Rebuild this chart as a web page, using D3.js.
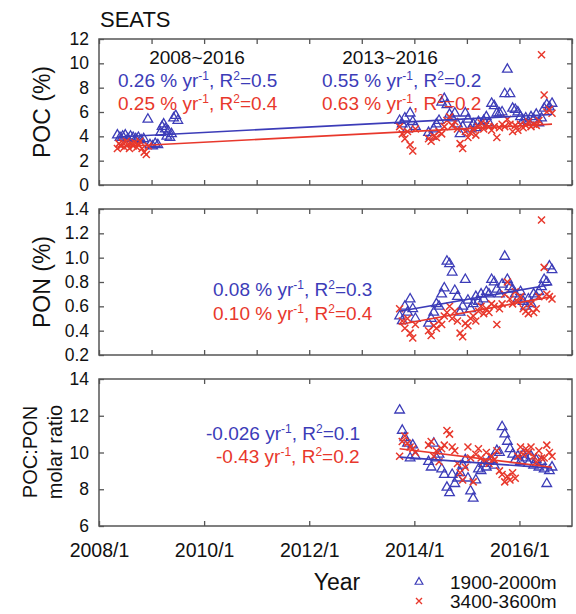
<!DOCTYPE html>
<html><head><meta charset="utf-8">
<script src="https://cdn.jsdelivr.net/npm/d3@7"></script>
<style>
body{margin:0;background:#fff;}
svg{display:block;font-family:"Liberation Sans",Arial,sans-serif;}
</style></head>
<body><svg id="c" width="576" height="614"></svg>
<script>
// ---------------- DATA ----------------
const seriesNames = ["1900-2000m", "3400-3600m"];
const xTickLabelsYears = [2008, 2010, 2012, 2014, 2016];

// early period (2008-2009), POC only
const blueEarlyDates = [2008.35,2008.40,2008.45,2008.50,2008.55,2008.60,2008.65,2008.70,2008.75,2008.80,2008.85,2008.93,2008.97,2009.02,2009.07,2009.12,2009.17,2009.20,2009.23,2009.26,2009.29,2009.32,2009.35,2009.38,2009.42,2009.46,2009.50];
const blueEarlyPOC   = [4.1,3.9,4.0,4.1,3.8,4.0,3.9,3.8,3.9,3.7,3.8,5.4,3.3,3.2,3.4,3.3,4.3,4.8,5.0,4.6,4.0,4.4,3.9,4.2,5.5,5.7,5.3];
const redEarlyDates  = [2008.35,2008.38,2008.42,2008.45,2008.48,2008.52,2008.55,2008.58,2008.62,2008.65,2008.68,2008.72,2008.75,2008.78,2008.82,2008.86,2008.90,2008.94];
const redEarlyPOC    = [3.0,3.4,3.2,3.5,3.1,3.6,3.3,3.0,3.4,3.2,3.5,3.1,3.3,3.6,3.0,2.7,2.5,3.2];

// later period (2013-2016)
const lateDates = [2013.72,2013.77,2013.82,2013.87,2013.92,2013.97,2014.02,
 2014.27,2014.32,2014.37,2014.42,2014.47,2014.52,2014.57,2014.62,2014.67,2014.72,2014.77,2014.82,2014.87,2014.92,2014.97,
 2015.02,2015.07,2015.12,2015.17,2015.22,2015.27,2015.32,2015.37,2015.42,2015.47,2015.52,2015.57,2015.62,2015.67,2015.72,2015.77,2015.82,2015.87,2015.92,2015.97,
 2016.02,2016.07,2016.12,2016.17,2016.22,2016.27,2016.32,2016.37,2016.42,2016.47,2016.52,2016.57,2016.62];

const bluePOC = [5.3,5.0,5.5,4.6,5.9,5.2,4.8,
 4.3,4.0,4.6,5.0,5.3,6.8,7.1,6.6,5.8,5.5,5.9,5.0,4.2,4.8,5.9,
 5.4,4.6,5.0,4.7,5.2,4.9,5.3,5.6,5.1,6.7,6.5,5.9,5.9,6.0,7.5,9.5,7.5,6.3,6.2,6.0,
 5.6,5.3,5.5,5.2,5.6,5.4,5.8,5.1,5.5,6.3,6.6,6.4,6.7];
const redPOC = [4.8,4.2,3.8,4.4,3.3,2.8,4.6,
 3.8,3.6,4.0,3.9,4.4,4.2,4.8,5.3,5.6,4.9,5.2,4.6,3.4,3.0,4.4,
 3.9,4.3,4.6,4.1,4.8,5.1,4.6,5.0,4.8,4.5,4.8,3.9,4.7,5.0,4.8,5.4,5.0,4.4,4.9,4.5,
 5.0,4.7,4.9,5.2,4.8,5.0,4.9,5.3,10.7,7.4,6.0,6.2,5.9];

const bluePON = [0.52,0.48,0.60,0.55,0.66,0.58,0.50,
 0.46,0.50,0.55,0.62,0.60,0.70,0.75,0.97,0.95,0.88,0.73,0.68,0.55,0.60,0.82,
 0.65,0.58,0.62,0.68,0.64,0.70,0.66,0.72,0.70,0.82,0.80,0.74,0.70,0.78,1.01,0.82,0.76,0.74,0.70,0.66,
 0.72,0.64,0.60,0.66,0.62,0.70,0.68,0.72,0.76,0.82,0.80,0.93,0.90];
const redPON = [0.58,0.48,0.42,0.50,0.38,0.34,0.45,
 0.40,0.36,0.44,0.42,0.48,0.45,0.52,0.55,0.60,0.50,0.56,0.48,0.38,0.35,0.46,
 0.44,0.50,0.52,0.48,0.56,0.60,0.54,0.58,0.55,0.62,0.60,0.45,0.58,0.62,0.70,0.80,0.66,0.62,0.72,0.64,
 0.68,0.58,0.56,0.54,0.62,0.55,0.58,0.68,1.31,0.92,0.70,0.68,0.66];

const blueRatio = [12.3,11.2,10.8,10.5,9.7,10.4,9.8,
 9.5,9.2,10.5,9.7,9.9,9.1,8.8,8.1,7.8,8.8,8.3,8.6,8.9,9.3,9.6,
 8.6,7.9,7.5,8.5,9.1,9.0,9.4,9.2,9.5,9.6,9.3,10.1,10.0,11.4,11.0,10.6,10.2,9.9,9.6,9.8,
 9.5,9.9,9.7,9.4,9.8,9.3,9.6,9.2,9.5,9.1,8.3,9.0,9.2];
const redRatio = [9.8,10.6,10.9,10.5,10.3,10.2,10.0,
 10.4,10.6,9.8,10.1,9.5,10.2,10.4,11.2,11.0,10.3,10.1,9.4,8.9,8.5,9.2,
 10.3,9.7,8.4,9.9,10.2,9.7,9.5,10.0,9.4,9.8,9.6,10.1,9.0,8.8,8.4,8.7,8.5,8.9,8.6,9.8,
 10.3,9.9,10.2,10.0,10.3,9.8,9.5,10.1,9.7,9.7,10.4,10.0,9.8];

// trend lines: [startYear, startValue, endYear, endValue]
const pocBlueTrend = [2008.35, 3.95, 2016.62, 5.8];
const pocRedTrend  = [2008.35, 3.15, 2016.62, 5.0];
const ponBlueTrend = [2013.72, 0.56, 2016.62, 0.78];
const ponRedTrend  = [2013.72, 0.45, 2016.62, 0.68];
const ratioBlueTrend = [2013.72, 9.75, 2016.62, 9.15];
const ratioRedTrend  = [2013.72, 10.2, 2016.62, 9.2];

// ---------------- STYLE / LAYOUT ----------------
const BLUE = "#3c3cb8", RED = "#e8382c", FRAME = "#555";
const svg = d3.select("#c");
const x = d3.scaleLinear().domain([2008, 2017]).range([99, 572]);

const panels = [
  {top:39, bottom:185, domain:[0,12], ticks:d3.range(0,13,2), fmt:d3.format("d"), xt:d3.range(2008,2018,1), labels:false},
  {top:209, bottom:355, domain:[0.2,1.4], ticks:[0.2,0.4,0.6,0.8,1.0,1.2,1.4], fmt:d3.format(".1f"), xt:d3.range(2008,2018,1), labels:false},
  {top:379, bottom:526, domain:[6,14], ticks:d3.range(6,15,2), fmt:d3.format("d"), xt:d3.range(2008,2018,2), labels:true}
];
panels.forEach(p => { p.y = d3.scaleLinear().domain(p.domain).range([p.bottom, p.top]); });

function styleAxis(g, size){
  g.select(".domain").remove();
  g.selectAll("line").attr("stroke", FRAME).attr("stroke-width", 1.3);
  g.selectAll("text").attr("fill", "#111").attr("font-size", size).attr("font-family", '"Liberation Sans",Arial,sans-serif');
}

panels.forEach(p => {
  const g = svg.append("g");
  g.append("g").attr("transform", `translate(${x.range()[0]},0)`)
    .call(d3.axisLeft(p.y).tickValues(p.ticks).tickFormat(p.fmt).tickSizeInner(-5).tickSizeOuter(0).tickPadding(10))
    .call(a => styleAxis(a, 17.5));
  g.append("g").attr("transform", `translate(${x.range()[1]},0)`)
    .call(d3.axisRight(p.y).tickValues(p.ticks).tickFormat("").tickSizeInner(-5).tickSizeOuter(0))
    .call(a => styleAxis(a, 17));
  g.append("g").attr("transform", `translate(0,${p.top})`)
    .call(d3.axisTop(x).tickValues(p.xt).tickFormat("").tickSizeInner(-5).tickSizeOuter(0))
    .call(a => styleAxis(a, 17));
  g.append("g").attr("transform", `translate(0,${p.bottom})`)
    .call(d3.axisBottom(x).tickValues(p.labels ? xTickLabelsYears : p.xt)
      .tickFormat(p.labels ? (d => d + "/1") : "").tickSizeInner(-5).tickSizeOuter(0).tickPadding(17))
    .call(a => styleAxis(a, 19.5));
  g.append("rect").attr("x", x.range()[0]).attr("y", p.top)
    .attr("width", x.range()[1]-x.range()[0]).attr("height", p.bottom-p.top)
    .attr("fill", "none").attr("stroke", FRAME).attr("stroke-width", 1.5);
});

const tri = d3.symbol().type(d3.symbolTriangle).size(40)();
const crossPath = "M-3.5,-3.5L3.5,3.5M-3.5,3.5L3.5,-3.5";

function drawTri(p, dates, vals){
  svg.append("g").selectAll("path").data(d3.zip(dates, vals)).join("path")
    .attr("d", tri).attr("transform", d => `translate(${x(d[0])},${p.y(d[1])})`)
    .attr("fill", "none").attr("stroke", BLUE).attr("stroke-width", 1.3);
}
function drawCross(p, dates, vals){
  svg.append("g").selectAll("path").data(d3.zip(dates, vals)).join("path")
    .attr("d", crossPath).attr("transform", d => `translate(${x(d[0])},${p.y(d[1])})`)
    .attr("fill", "none").attr("stroke", RED).attr("stroke-width", 1.5);
}
function drawTrend(p, t, color){
  svg.append("line").attr("x1", x(t[0])).attr("y1", p.y(t[1])).attr("x2", x(t[2])).attr("y2", p.y(t[3]))
    .attr("stroke", color).attr("stroke-width", 1.6);
}

// top panel
drawTri(panels[0], blueEarlyDates, blueEarlyPOC);
drawTri(panels[0], lateDates, bluePOC);
drawCross(panels[0], redEarlyDates, redEarlyPOC);
drawCross(panels[0], lateDates, redPOC);
drawTrend(panels[0], pocBlueTrend, BLUE);
drawTrend(panels[0], pocRedTrend, RED);
// middle panel
drawTri(panels[1], lateDates, bluePON);
drawCross(panels[1], lateDates, redPON);
drawTrend(panels[1], ponBlueTrend, BLUE);
drawTrend(panels[1], ponRedTrend, RED);
// bottom panel
drawTri(panels[2], lateDates, blueRatio);
drawCross(panels[2], lateDates, redRatio);
drawTrend(panels[2], ratioBlueTrend, BLUE);
drawTrend(panels[2], ratioRedTrend, RED);

// ---------------- TEXT ----------------
function label(xp, yp, parts, color, size, anchor){
  const t = svg.append("text").attr("x", xp).attr("y", yp).attr("fill", color)
    .attr("font-size", size).attr("text-anchor", anchor || "start");
  parts.forEach(pt => {
    if (typeof pt === "string") t.append("tspan").text(pt);
    else t.append("tspan").attr("dy", pt.dy).attr("font-size", pt.size || size).text(pt.t);
  });
  return t;
}
function statParts(a, b){
  return [a, {t:"-1", dy:-7, size:12}, {t:", R", dy:7}, {t:"2", dy:-7, size:12}, {t:b, dy:7}];
}
label(100, 27, ["SEATS"], "#111", 22);
label(197, 64, ["2008~2016"], "#111", 19, "middle");
label(118, 87, statParts("0.26 % yr", "=0.5"), BLUE, 19);
label(118, 110, statParts("0.25 % yr", "=0.4"), RED, 19);
label(390, 64, ["2013~2016"], "#111", 19, "middle");
label(322, 87, statParts("0.55 % yr", "=0.2"), BLUE, 19);
label(322, 110, statParts("0.63 % yr", "=0.2"), RED, 19);

label(213, 296, statParts("0.08 % yr", "=0.3"), BLUE, 19);
label(213, 320, statParts("0.10 % yr", "=0.4"), RED, 19);
label(206, 440, statParts("-0.026 yr", "=0.1"), BLUE, 19);
label(216, 463, statParts("-0.43 yr", "=0.2"), RED, 19);

// axis titles
svg.append("text").attr("transform", "translate(50,112) rotate(-90)").attr("text-anchor", "middle")
  .attr("font-size", 23).attr("fill", "#111").text("POC (%)");
svg.append("text").attr("transform", "translate(50,282) rotate(-90)").attr("text-anchor", "middle")
  .attr("font-size", 23).attr("fill", "#111").text("PON (%)");
svg.append("text").attr("transform", "translate(37,452) rotate(-90)").attr("text-anchor", "middle")
  .attr("font-size", 20).attr("fill", "#111").text("POC:PON");
svg.append("text").attr("transform", "translate(62,452) rotate(-90)").attr("text-anchor", "middle")
  .attr("font-size", 20).attr("fill", "#111").text("molar ratio");
svg.append("text").attr("x", 337).attr("y", 590).attr("text-anchor", "middle")
  .attr("font-size", 23).attr("fill", "#111").text("Year");

// legend
const legend = svg.append("g");
legend.append("path").attr("d", d3.symbol().type(d3.symbolTriangle).size(26)())
  .attr("transform", "translate(419,582)").attr("fill", "none").attr("stroke", BLUE).attr("stroke-width", 1.2);
legend.append("path").attr("d", "M-3,-3L3,3M-3,3L3,-3")
  .attr("transform", "translate(419,601)").attr("fill", "none").attr("stroke", RED).attr("stroke-width", 1.4);
legend.selectAll("text.lg").data(seriesNames).join("text").attr("class", "lg")
  .attr("x", 450).attr("y", (d, i) => 589 + i * 19).attr("font-size", 19).attr("fill", "#111").text(d => d);
</script></body></html>
